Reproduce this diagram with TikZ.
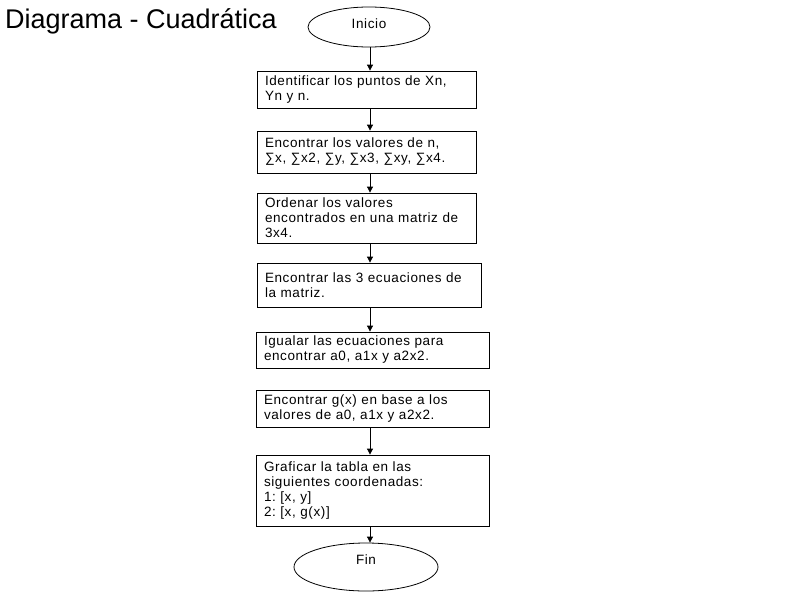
\documentclass[tikz,border=0pt]{standalone}
\usepackage{fontspec}
\setmainfont{Liberation Sans}
\usetikzlibrary{shapes.geometric, arrows.meta, positioning}
\frenchspacing

\begin{document}
\begin{tikzpicture}[
  x=1pt, y=-1pt,
  box/.style={draw, line width=0.8pt, align=left, inner xsep=8pt, inner ysep=0pt,
    font=\fontsize{13.5}{15}\selectfont\addfontfeatures{LetterSpace=4.5}},
  term/.style={draw, ellipse, line width=0.8pt, inner sep=0pt,
    font=\fontsize{13.5}{15}\selectfont\addfontfeatures{LetterSpace=4.5}},
  arrow/.style={-{Triangle[length=6pt, width=6pt]}, line width=0.8pt}
]
  \useasboundingbox (0,0) rectangle (800,600);
  \node[font=\fontsize{27}{30}\selectfont, anchor=base west, inner sep=0pt] (title) at (5,28) {Diagrama - Cuadrática};

  \node[term, minimum width=122pt, minimum height=40pt, text depth=6pt] (ini) at (369,27) {Inicio};
  \node[box, text width=203pt, minimum height=37pt] (s1) at (366.5,89.5) {Identificar los puntos de Xn,\\Yn y n.};
  \node[box, text width=203pt, minimum height=42pt] (s2) at (366.5,152) {Encontrar los valores de n,\\∑x, ∑x2, ∑y, ∑x3, ∑xy, ∑x4.};
  \node[box, text width=203pt, minimum height=50pt] (s3) at (366.5,218) {Ordenar los valores\\encontrados en una matriz de\\3x4.};
  \node[box, text width=208pt, minimum height=44pt] (s4) at (369,285) {Encontrar las 3 ecuaciones de\\la matriz.};
  \node[box, text width=217pt, minimum height=36pt] (s5) at (372.5,350) {Igualar las ecuaciones para\\encontrar a0, a1x y a2x2.};
  \node[box, text width=217pt, minimum height=37pt] (s6) at (372.5,408.5) {Encontrar g(x) en base a los\\valores de a0, a1x y a2x2.};
  \node[box, text width=217pt, minimum height=71pt] (s7) at (372.5,490.5) {Graficar la tabla en las\\siguientes coordenadas:\\1: [x, y]\\2: [x, g(x)]};
  \node[term, minimum width=144pt, minimum height=48pt, text depth=14pt] (fin) at (366,567) {Fin};

  % Flujo principal
  \coordinate (axis) at (370,0);
  \draw[arrow] (ini.south -| axis) -- (s1.north -| axis);
  \draw[arrow] (s1.south -| axis) -- (s2.north -| axis);
  \draw[arrow] (s2.south -| axis) -- (s3.north -| axis);
  \draw[arrow] (s3.south -| axis) -- (s4.north -| axis);
  \draw[arrow] (s4.south -| axis) -- (s5.north -| axis);
  \draw[arrow] (s6.south -| axis) -- (s7.north -| axis);
  \draw[arrow] (s7.south -| axis) -- (fin.north -| axis);
\end{tikzpicture}
\end{document}
